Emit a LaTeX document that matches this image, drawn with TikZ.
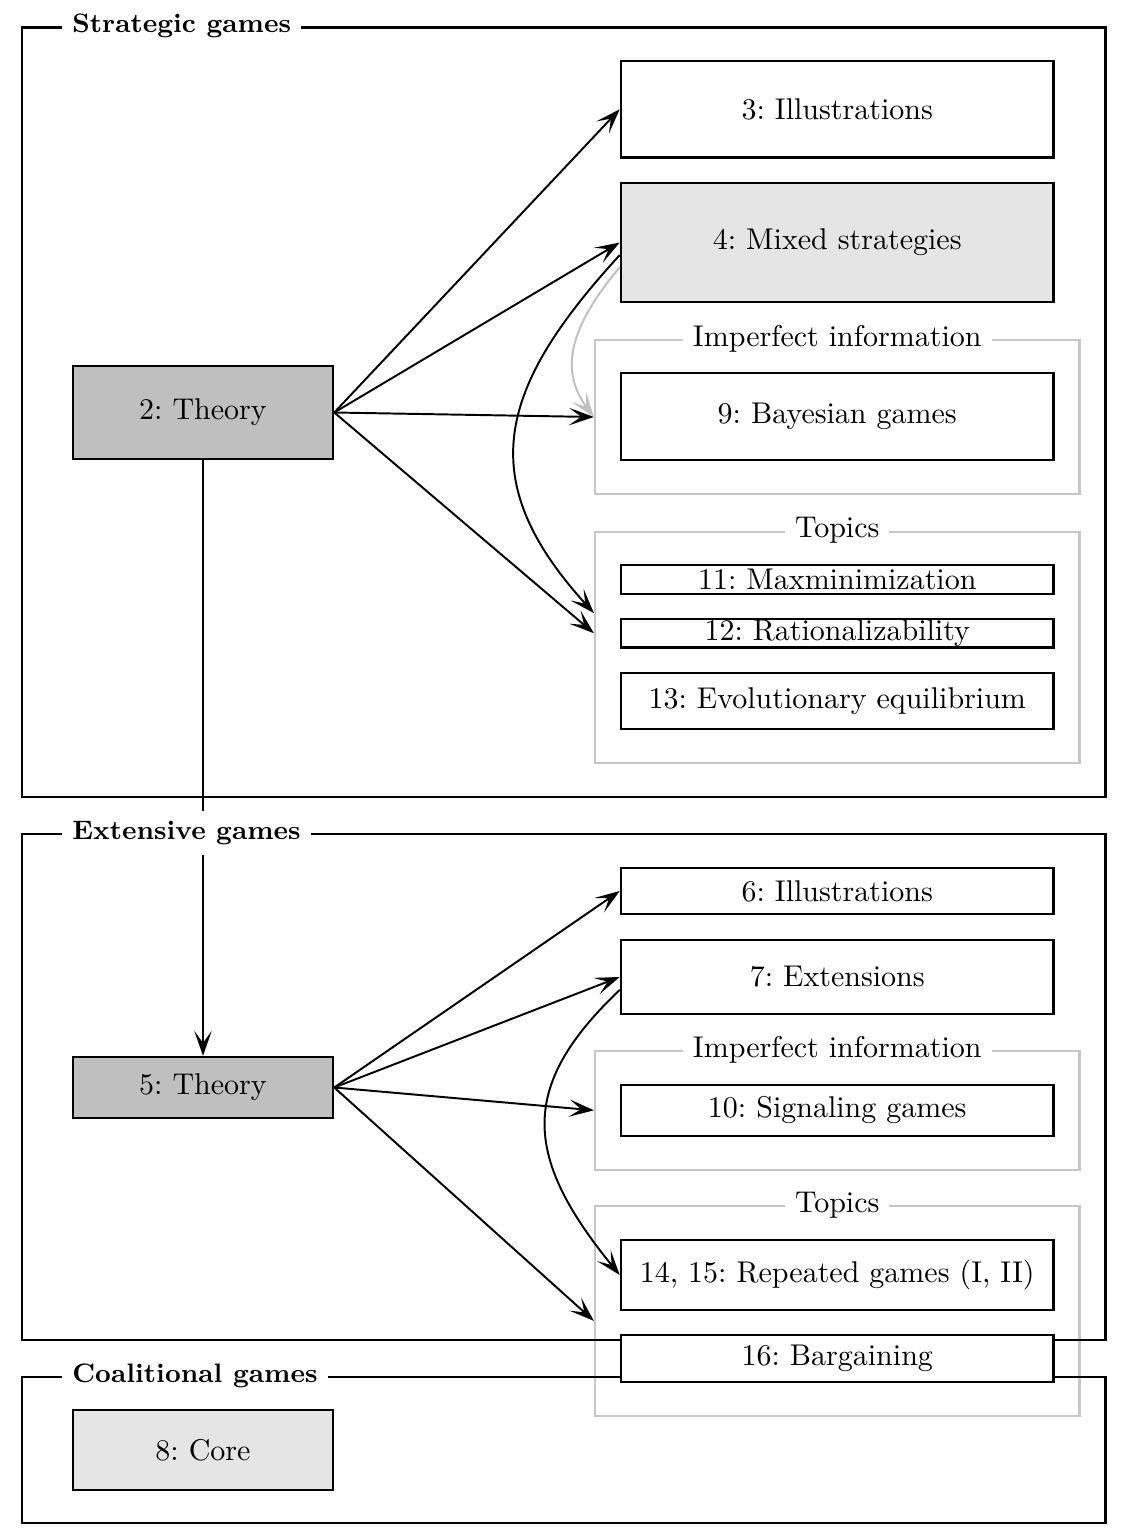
\documentclass[tikz,border=0pt]{standalone}
\usetikzlibrary{arrows.meta}
\frenchspacing

\begin{document}
\begin{tikzpicture}[x=0.3333pt, y=-0.3333pt,
            >={Stealth[length=8.3pt,width=5.8pt,inset=4pt]},
            part/.style={draw, line width=0.8pt, minimum width=361.2pt},
            parttitle/.style={fill=white, font=\bfseries\fontsize{8.9}{10}\selectfont, anchor=west},
            group/.style={draw=black!22, line width=0.7pt, minimum width=161.5pt},
            grouptitle/.style={fill=white},
            chap/.style={draw, fill=white, line width=0.8pt, inner sep=0pt,
                minimum width=144.2pt},
            theory/.style={chap, fill=black!25, minimum width=86.7pt},
            link/.style={->, line width=0.65pt}]
            \useasboundingbox (0,0) rectangle (1124,1540);

            \node[group, minimum height=51.3pt] (imp1) at (837.25,417) {};
            \node[group, minimum height=77.1pt] (top1) at (837.25,647.3) {};
            \node[group, minimum height=39.8pt] (imp2) at (837.25,1110.3) {};
            \node[group, minimum height=70pt] (top2) at (837.25,1311) {};

            \node[part, minimum height=256.5pt] (strat) at (563.75,412.25) {};
            \node[part, minimum height=168.7pt] (ext) at (563.75,1087) {};
            \node[part, minimum height=48.7pt] (coal) at (563.75,1450) {};

            \node[theory, minimum height=31pt] (th2) at (203,412.5) {2: Theory};
            \node[chap, minimum height=32.2pt] (ill3) at (837.25,109.25) {3: Illustrations};
            \node[chap, fill=black!10, minimum height=39.7pt] (mix4) at (837.25,242.5) {4: Mixed strategies};
            \node[chap, minimum height=29pt] (bay9) at (837.25,416.5) {9: Bayesian games};
            \node[chap, minimum height=9.7pt] (max11) at (837.25,579.5) {11: Maxminimization};
            \node[chap, minimum height=9.5pt] (rat12) at (837.25,633.25) {12: Rationalizability};
            \node[chap, minimum height=18.7pt] (evo13) at (837.25,701) {13: Evolutionary equilibrium};

            \node[theory, minimum height=20.3pt] (th5) at (203,1087.5) {5: Theory};
            \node[chap, minimum height=15.3pt] (ill6) at (837.25,891) {6: Illustrations};
            \node[chap, minimum height=24.7pt] (ext7) at (837.25,977) {7: Extensions};
            \node[chap, minimum height=17pt] (sig10) at (837.25,1110.5) {10: Signaling games};
            \node[chap, minimum height=23.3pt] (rep14) at (837.25,1275) {14, 15: Repeated games (I, II)};
            \node[chap, minimum height=15.7pt] (bar16) at (837.25,1358.5) {16: Bargaining};

            \node[theory, fill=black!10, minimum height=26.7pt] (core8) at (203,1450) {8: Core};

            % strategic games
            \draw[link] (th2.east) -- (ill3.west);
            \draw[link] (th2.east) -- (mix4.west);
            \draw[link] (th2.east) -- (imp1.west);
            \draw[link] (th2.east) -- (top1.west |- rat12.west);
            \draw[link] ([yshift=-4.2pt]mix4.west) .. controls +(-124,135) and +(-120,-132) .. ([yshift=6.7pt]top1.west |- rat12.west);
            \draw[link, black!25] ([yshift=-8.2pt]mix4.west) .. controls +(-50,60) and +(-35,-47) .. (imp1.west);
            \draw[link] (th2.south) -- (th5.north);

            % extensive games
            \draw[link] (th5.east) -- (ill6.west);
            \draw[link] (th5.east) -- (ext7.west);
            \draw[link] (th5.east) -- (imp2.west);
            \draw[link] (th5.east) -- ([yshift=-3.3pt]top2.west);
            \draw[link] ([yshift=-4.3pt]ext7.west) .. controls +(-100,95) and +(-98,-120) .. (rep14.west);

            \node[parttitle] (strat-title) at ([xshift=13.7pt]strat.north west) {Strategic games};
            \node[parttitle] (ext-title) at ([xshift=13.7pt]ext.north west) {Extensive games};
            \node[parttitle] (coal-title) at ([xshift=13.7pt]coal.north west) {Coalitional games};
            \node[grouptitle] (imp1-title) at (imp1.north) {Imperfect information};
            \node[grouptitle] (top1-title) at (top1.north) {Topics};
            \node[grouptitle] (imp2-title) at (imp2.north) {Imperfect information};
            \node[grouptitle] (top2-title) at (top2.north) {Topics};
\end{tikzpicture}
\end{document}
